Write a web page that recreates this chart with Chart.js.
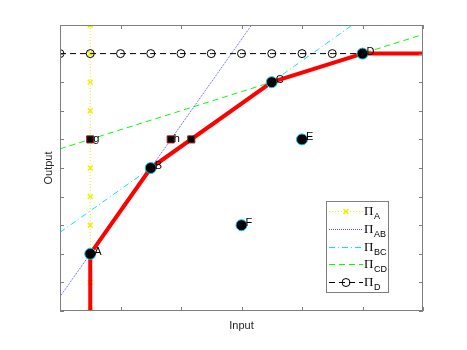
<!DOCTYPE html>
<html>
<head>
<meta charset="utf-8">
<script src="https://cdn.jsdelivr.net/npm/chart.js@4"></script>
<style>
  body { margin: 0; background: #fff; }
</style>
</head>
<body>
<canvas id="frontier" width="467" height="350"></canvas>
<script>
// Firms (black dots) and their labels
const firmNames = ['A', 'B', 'C', 'D', 'E', 'F'];
const firmX = [0.5, 1.5, 3.5, 5, 4, 3];
const firmY = [2, 5, 8, 9, 6, 3];

// Projected points (squares)
const projNames = ['g', 'h', ''];
const projX = [0.5, 1.83, 2.17];
const projY = [6, 6, 6];

// Frontier (red)
const frontierX = [0.5, 0.5, 1.5, 3.5, 5, 6];
const frontierY = [0, 2, 5, 8, 9, 9];

// Supporting lines
const piAX = [0.5, 0.5, 0.5, 0.5, 0.5, 0.5, 0.5, 0.5, 0.5, 0.5, 0.5];
const piAY = [0, 1, 2, 3, 4, 5, 6, 7, 8, 9, 10];
const piABX = [0, 6];
const piABY = [0.5, 18.5];
const piBCX = [0, 6];
const piBCY = [2.75, 11.75];
const piCDX = [0, 6];
const piCDY = [5.67, 9.67];
const piDX = [0, 0.5, 1, 1.5, 2, 2.5, 3, 3.5, 4, 4.5, 5];
const piDY = [9, 9, 9, 9, 9, 9, 9, 9, 9, 9, 9];

// Legend subscripts
const legendSubs = ['A', 'AB', 'BC', 'CD', 'D'];

const xy = (xs, ys) => xs.map((x, i) => ({ x: x, y: ys[i] }));

// Box with inward ticks, point labels and the legend
const decorations = {
    id: 'decorations',
    afterDatasetsDraw(chart) {
        const ctx = chart.ctx;
        const area = chart.chartArea;
        const xs = chart.scales.x;
        const ys = chart.scales.y;
        ctx.save();

        // box
        ctx.strokeStyle = '#7f7f7f';
        ctx.lineWidth = 1;
        ctx.strokeRect(area.left + 0.5, area.top + 0.5, area.right - area.left - 1, area.bottom - area.top - 1);
        ctx.beginPath();
        xs.ticks.forEach(t => {
            const px = Math.round(xs.getPixelForValue(t.value)) + 0.5;
            ctx.moveTo(px, area.bottom); ctx.lineTo(px, area.bottom - 4);
            ctx.moveTo(px, area.top); ctx.lineTo(px, area.top + 4);
        });
        ys.ticks.forEach(t => {
            const py = Math.round(ys.getPixelForValue(t.value)) + 0.5;
            ctx.moveTo(area.left, py); ctx.lineTo(area.left + 4, py);
            ctx.moveTo(area.right, py); ctx.lineTo(area.right - 4, py);
        });
        ctx.stroke();

        // point labels
        ctx.fillStyle = '#000';
        ctx.font = '11px "Liberation Sans", Arial, sans-serif';
        ctx.textAlign = 'left';
        ctx.textBaseline = 'middle';
        firmNames.forEach((n, i) => {
            ctx.fillText(n, xs.getPixelForValue(firmX[i]) + 4, ys.getPixelForValue(firmY[i]) - 2);
        });
        projNames.forEach((n, i) => {
            ctx.fillText(n, xs.getPixelForValue(projX[i]) + 3, ys.getPixelForValue(projY[i]));
        });

        // legend
        const lx = 326, ly = 201, lw = 62, lh = 91;
        ctx.fillStyle = '#fff';
        ctx.fillRect(lx, ly, lw, lh);
        ctx.strokeStyle = '#7f7f7f';
        ctx.strokeRect(lx + 0.5, ly + 0.5, lw, lh);
        const legendSets = chart.data.datasets.filter(d => d.legendIndex !== undefined)
            .sort((a, b) => a.legendIndex - b.legendIndex);
        legendSets.forEach((d, i) => {
            const y = Math.round(ly + 10 + i * 17.8) + 0.5;
            ctx.strokeStyle = d.borderColor;
            ctx.lineWidth = 1;
            ctx.setLineDash(d.borderDash || []);
            ctx.beginPath();
            ctx.moveTo(lx + 3, y);
            ctx.lineTo(lx + 37, y);
            ctx.stroke();
            ctx.setLineDash([]);
            if (d.pointRadius > 0) {
                ctx.strokeStyle = d.pointBorderColor;
                ctx.fillStyle = 'rgba(0,0,0,0)';
                ctx.lineWidth = d.pointBorderWidth || 1;
                Chart.helpers.drawPoint(ctx, {
                    pointStyle: d.pointStyle,
                    radius: d.pointRadius,
                    borderWidth: d.pointBorderWidth || 1,
                    rotation: 0
                }, lx + 20, y);
                ctx.lineWidth = 1;
            }
            ctx.fillStyle = '#000';
            ctx.font = '13px "Liberation Serif", serif';
            ctx.textBaseline = 'middle';
            ctx.fillText('\u03A0', lx + 38, y);
            ctx.font = '9px "Liberation Sans", Arial, sans-serif';
            ctx.fillText(legendSubs[i], lx + 48, y + 5);
        });
        ctx.restore();
    }
};

const lineBase = { showLine: true, fill: false, pointRadius: 0, borderWidth: 1, tension: 0 };

new Chart(document.getElementById('frontier'), {
    type: 'scatter',
    data: {
        datasets: [
            {
                label: 'firms', data: xy(firmX, firmY),
                pointRadius: 5.5, pointStyle: 'circle',
                backgroundColor: '#000', borderColor: '#00c8e8', borderWidth: 1
            },
            {
                label: 'projections', data: xy(projX, projY),
                pointRadius: 5, pointStyle: 'rect',
                backgroundColor: '#000', borderColor: '#a01818', borderWidth: 1
            },
            Object.assign({}, lineBase, {
                label: 'frontier', data: xy(frontierX, frontierY),
                borderColor: '#ff0000', borderWidth: 4, borderJoinStyle: 'round'
            }),
            Object.assign({}, lineBase, {
                label: 'PiD', legendIndex: 4, data: xy(piDX, piDY),
                borderColor: '#000', borderDash: [6, 4],
                pointRadius: 4, pointStyle: 'circle',
                pointBackgroundColor: 'rgba(0,0,0,0)', pointBorderColor: '#000', pointBorderWidth: 1
            }),
            Object.assign({}, lineBase, {
                label: 'PiCD', legendIndex: 3, data: xy(piCDX, piCDY),
                borderColor: '#00ff00', borderDash: [6, 4]
            }),
            Object.assign({}, lineBase, {
                label: 'PiBC', legendIndex: 2, data: xy(piBCX, piBCY),
                borderColor: '#00e8f0', borderDash: [6, 3, 1, 3]
            }),
            Object.assign({}, lineBase, {
                label: 'PiAB', legendIndex: 1, data: xy(piABX, piABY),
                borderColor: '#5050ff', borderDash: [1, 1]
            }),
            Object.assign({}, lineBase, {
                label: 'PiA', legendIndex: 0, data: xy(piAX, piAY),
                borderColor: '#f0f000', borderDash: [1, 2],
                pointRadius: 3.5, pointStyle: 'crossRot',
                pointBorderColor: '#f0f000', pointBorderWidth: 1.5
            })
        ]
    },
    options: {
        responsive: false,
        animation: false,
        devicePixelRatio: 1,
        layout: { padding: { left: 38.8, right: 44, top: 25, bottom: 13.8 } },
        plugins: { legend: { display: false }, tooltip: { enabled: false } },
        scales: {
            x: {
                type: 'linear', min: 0, max: 6,
                ticks: { display: false, stepSize: 1 },
                grid: { display: false, drawTicks: false },
                border: { display: false },
                title: {
                    display: true, text: 'Input', color: '#262626',
                    font: { family: '"Liberation Sans", Arial, sans-serif', size: 11 },
                    padding: { top: 8, bottom: 4 }
                }
            },
            y: {
                type: 'linear', min: 0, max: 10,
                ticks: { display: false, stepSize: 1 },
                grid: { display: false, drawTicks: false },
                border: { display: false },
                title: {
                    display: true, text: 'Output', color: '#262626',
                    font: { family: '"Liberation Sans", Arial, sans-serif', size: 11 },
                    padding: { top: 4, bottom: 4 }
                }
            }
        }
    },
    plugins: [decorations]
});
</script>
</body>
</html>
